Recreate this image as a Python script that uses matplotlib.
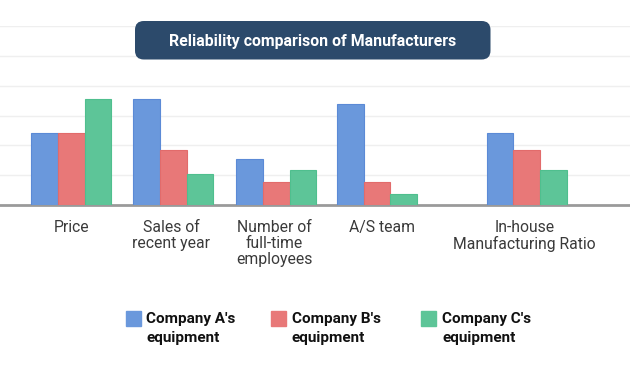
import numpy as np
import matplotlib.pyplot as plt
from matplotlib.patches import FancyBboxPatch, Rectangle

# data
categories = ["Price", "Sales of\nrecent year", "Number of\nfull-time\nemployees",
              "A/S team", "In-house\nManufacturing Ratio"]
company_a = [2.4, 3.55, 1.53, 3.39, 2.4]
company_b = [2.4, 1.85, 0.76, 0.76, 1.85]
company_c = [3.55, 1.03, 1.18, 0.37, 1.18]
series_names = ["Company A's\nequipment", "Company B's\nequipment", "Company C's\nequipment"]

# layout
group_pos = np.array([0.0, 1.0, 2.009, 2.997, 4.465])
label_shift = [0.0, -0.02, -0.02, 0.05, -0.02]
colors = ["#6a98dc", "#e87878", "#5dc598"]
edges = ["#5b8ad6", "#e26b6b", "#4fbf8e"]
width = 0.262

plt.rcParams['font.family'] = ['Roboto', 'DejaVu Sans']

fig = plt.figure(figsize=(6.3, 3.81), dpi=100)
ax = fig.add_axes([0, (381 - 205) / 381, 1, (205 - 26) / 381])

for i, vals in enumerate([company_a, company_b, company_c]):
    ax.bar(group_pos + (i - 1) * width, vals, width, color=colors[i],
           edgecolor=edges[i], linewidth=0.8, zorder=3)

ax.set_xlim(-0.699, 5.477)
ax.set_ylim(0, 6)
ax.set_yticks(np.arange(1, 7))
ax.yaxis.grid(True, color="#efefef", linewidth=1)
ax.set_axisbelow(True)
ax.tick_params(axis="y", left=False, labelleft=False)
ax.tick_params(axis="x", bottom=False, labelbottom=False)
for s in ["top", "right", "left"]:
    ax.spines[s].set_visible(False)
ax.spines["bottom"].set_color("#9a9a9a")
ax.spines["bottom"].set_linewidth(2)

# category labels
for x, dx, lab in zip(group_pos, label_shift, categories):
    ax.annotate(lab, xy=(x + dx, 0), xycoords="data", xytext=(0, -11),
                textcoords="offset points", ha="center", va="top",
                fontsize=11.3, color="#3a3a3a", linespacing=1.07)

# title box
fig.patches.append(FancyBboxPatch((135 / 630, 1 - 59.5 / 381), (490.5 - 135) / 630, (59.5 - 21) / 381,
                                  boxstyle="round,pad=0,rounding_size=0.014",
                                  transform=fig.transFigure, facecolor="#2c4a6b",
                                  edgecolor="none", mutation_aspect=630 / 381))
fig.text(313 / 630, 1 - 41.5 / 381, "Reliability comparison of Manufacturers",
         ha="center", va="center", color="white", fontsize=11.4, fontweight="bold")

# legend
legend_x = [126, 271, 421.5]
for i, name in enumerate(series_names):
    fig.patches.append(Rectangle((legend_x[i] / 630, 1 - 326 / 381), 15 / 630, 15 / 381,
                                 transform=fig.transFigure, color=colors[i]))
    fig.text((legend_x[i] + 20.5) / 630, 1 - 312.5 / 381, name, ha="left", va="top",
             fontsize=11, fontweight="bold", color="#111111", linespacing=1.38)

fig.savefig("out.png", dpi=100)
